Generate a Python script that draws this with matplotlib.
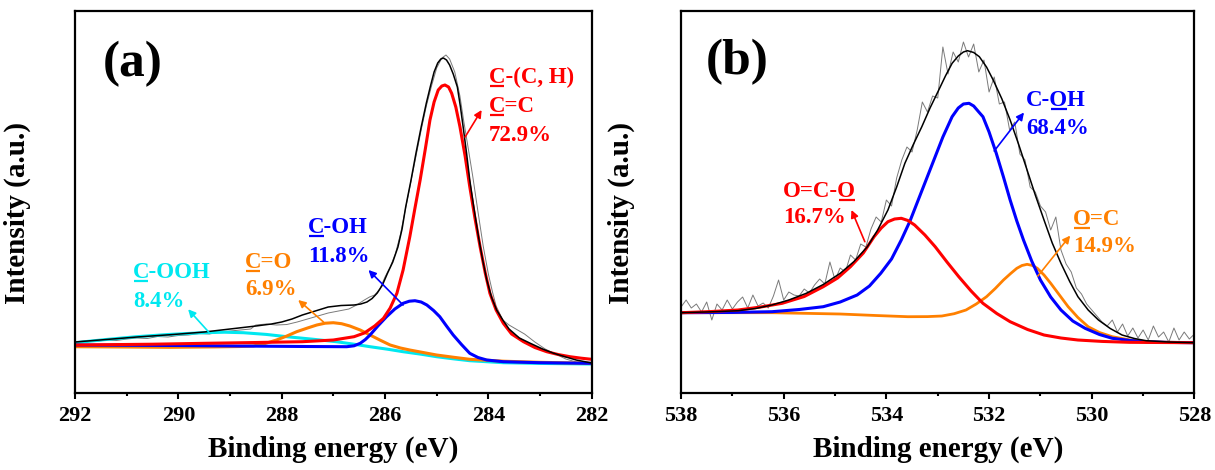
import numpy as np
import matplotlib
matplotlib.use("Agg")
import matplotlib.pyplot as plt

# ---------------- panel (a): C 1s ----------------
a_raw_e = [292.0, 291.8, 291.6, 291.4, 291.2, 291.0, 290.8, 290.6, 290.4, 290.2, 290.0, 289.8,
           289.6, 289.4, 289.2, 289.0, 288.8, 288.6, 288.5, 288.3, 288.1, 287.9, 287.7, 287.5,
           287.3, 287.1, 286.9, 286.7, 286.55, 286.4, 286.3, 286.2, 286.1, 286.0, 285.9, 285.8,
           285.7, 285.6, 285.5, 285.4, 285.3, 285.2, 285.1, 285.0, 284.9, 284.82, 284.75, 284.65,
           284.55, 284.48, 284.4, 284.3, 284.2, 284.1, 284.0, 283.92, 283.85, 283.72, 283.6,
           283.5, 283.3, 283.1, 282.9, 282.7, 282.5, 282.3, 282.0]
a_raw_i = [50, 51, 50.5, 52, 51.5, 53, 54, 53.5, 55.5, 55, 56.5, 57,
           58.5, 58, 60, 61, 62, 63, 67, 68, 67, 67.5, 70, 73,
           76, 79, 81, 83, 87, 92, 95, 97, 103, 115, 125, 138,
           158, 184, 210, 236, 262, 286, 306, 324, 334, 337, 333, 320,
           296, 272, 247, 215, 180, 146, 118, 100, 86, 72, 67,
           64, 58, 50, 43, 38, 33, 30, 29]

a_fit_e = [292.0, 291.4, 290.8, 290.1, 289.5, 289.0, 288.5, 288.2, 288.0, 287.8, 287.6, 287.35,
           287.1, 286.85, 286.6, 286.47, 286.35, 286.25, 286.15, 286.05, 285.95, 285.85, 285.75,
           285.67, 285.6, 285.5, 285.4, 285.3, 285.2, 285.12, 285.05, 284.98, 284.92, 284.87,
           284.81, 284.75, 284.68, 284.6, 284.54, 284.48, 284.42, 284.36, 284.28, 284.19, 284.11,
           284.03, 283.94, 283.84, 283.72, 283.6, 283.4, 283.2, 282.95, 282.75, 282.5, 282.3, 282.0]
a_fit_i = [50, 52.5, 55, 57.5, 60, 63, 66, 68, 70, 73, 77, 81,
           85, 86.5, 87, 88, 90, 93.5, 99, 107, 119, 130, 145,
           163, 185, 211, 239, 265, 289, 306, 320, 329, 333, 334,
           332, 327, 318, 305, 285, 262, 238, 212, 184, 155, 132,
           112, 95, 82, 72, 63, 54, 49, 43, 39, 35, 32, 29]

a_cc_e = [292.0, 290.5, 289.5, 288.5, 287.6, 287.0, 286.6, 286.4, 286.2, 286.03, 285.9, 285.77,
          285.65, 285.52, 285.42, 285.32, 285.22, 285.13, 285.05, 284.97, 284.9, 284.84, 284.77,
          284.71, 284.63, 284.55, 284.45, 284.36, 284.26, 284.16, 284.06, 283.97, 283.85, 283.71,
          283.55, 283.32, 283.1, 282.87, 282.65, 282.42, 282.2, 282.0]
a_cc_i = [47, 47.8, 48.7, 49.5, 50.3, 52, 55.3, 59, 66, 73.7, 84, 98.7,
          122, 155.3, 184, 212, 243, 272, 290, 302, 306, 307, 305,
          298.7, 285, 265.3, 236, 205.3, 174, 145.3, 119, 98.7, 82, 68.7,
          58, 50.3, 44.5, 40.3, 37.5, 35.3, 33.8, 32.7]

a_coh_e = [292.0, 290.0, 288.87, 287.5, 286.74, 286.6, 286.48, 286.38, 286.29, 286.13, 285.97,
           285.81, 285.65, 285.53, 285.42, 285.3, 285.19, 285.06, 284.94, 284.81, 284.68, 284.52,
           284.36, 284.2, 284.03, 283.71, 283.0, 282.0]
a_coh_i = [47, 46.5, 46, 45.5, 45.3, 46.2, 48.7, 52.5, 57, 66.5, 75.3,
           83, 88.7, 90.8, 91.3, 90, 87, 81.5, 75.3, 66, 57, 47.5,
           38.7, 34.5, 32, 30.3, 29.3, 28.7]

a_co_e = [292.0, 291.0, 290.16, 289.3, 288.8, 288.55, 288.32, 288.1, 287.9, 287.71, 287.5,
          287.32, 287.16, 287.0, 286.84, 286.68, 286.48, 286.29, 286.1, 285.9, 285.7, 285.52,
          285.25, 285.0, 284.68, 284.36, 283.7, 283.0, 282.0]
a_co_i = [45.3, 45, 44.7, 45.1, 45.5, 46, 48.5, 52, 56, 60.3, 64,
          67, 68.8, 69.3, 68.3, 66, 62, 57, 52, 47, 44, 42,
          39.4, 37, 34.8, 32.7, 30.8, 29.7, 28.7]

a_cooh_e = [292.0, 291.4, 290.81, 290.2, 289.52, 289.1, 288.74, 288.3, 287.9, 287.4, 286.94,
            286.6, 286.29, 285.95, 285.65, 285.3, 285.0, 284.68, 284.36, 284.0, 283.71, 283.0,
            282.0]
a_cooh_i = [49.3, 52.5, 55.3, 57.5, 59.3, 59.8, 59.3, 57.6, 55.3, 52.8, 50.3,
            47.8, 45.3, 42.8, 40.3, 37.8, 35.3, 33.2, 31.3, 30.2, 29.3, 28.6,
            28]

# ---------------- panel (b): O 1s ----------------
b_raw_e = [538.0, 537.9, 537.8, 537.7, 537.6, 537.5, 537.4, 537.3, 537.2, 537.1,
           537.0, 536.9, 536.8, 536.7, 536.6, 536.5, 536.4, 536.3, 536.2, 536.1,
           536.0, 535.9, 535.8, 535.7, 535.6, 535.5, 535.4, 535.3, 535.2, 535.1,
           535.0, 534.9, 534.8, 534.7, 534.6, 534.5, 534.4, 534.3, 534.2, 534.1,
           534.0, 533.9, 533.8, 533.7, 533.6, 533.5, 533.4, 533.3, 533.2, 533.1,
           533.0, 532.9, 532.8, 532.7, 532.6, 532.5, 532.4, 532.3, 532.2, 532.1,
           532.0, 531.9, 531.8, 531.7, 531.6, 531.5, 531.4, 531.3, 531.2, 531.1,
           531.0, 530.9, 530.8, 530.7, 530.6, 530.5, 530.4, 530.3, 530.2, 530.1,
           530.0, 529.9, 529.8, 529.7, 529.6, 529.5, 529.4, 529.3, 529.2, 529.1,
           529.0, 528.9, 528.8, 528.7, 528.6, 528.5, 528.4, 528.3, 528.2, 528.1, 528.0]
b_raw_i = [85, 92, 84, 88, 80, 90, 72, 88, 82, 92,
           83, 90, 95, 84, 97, 86, 89, 84, 96, 112,
           92, 100, 97, 96, 103, 99, 107, 113, 108, 130,
           112, 124, 120, 137, 132, 148, 145, 163, 175, 170,
           192, 186, 214, 232, 245, 240, 262, 290, 280, 296,
           294, 345, 318, 340, 330, 350, 335, 348, 320, 332,
           300, 315, 288, 290, 262, 270, 238, 232, 205, 200,
           186, 180, 162, 175, 142, 128, 120, 104, 98, 88,
           82, 76, 70, 66, 72, 60, 68, 56, 64, 54,
           62, 52, 66, 55, 60, 50, 64, 52, 60, 53, 58]

b_fit_e = [538.0, 537.4, 536.89, 536.55, 536.23, 535.9, 535.56, 535.23, 534.9, 534.63, 534.37,
           534.17, 533.97, 533.8, 533.64, 533.48, 533.31, 533.15, 532.98, 532.85, 532.72, 532.6,
           532.5, 532.42, 532.3, 532.19, 532.05, 531.92, 531.75, 531.59, 531.42, 531.26, 531.1,
           530.93, 530.77, 530.6, 530.43, 530.27, 530.07, 529.87, 529.64, 529.41, 529.17, 528.94,
           528.5, 528.0]
b_fit_i = [79.3, 80.2, 81.3, 83.5, 87, 92, 98.7, 107.5, 118.7, 130.5, 145.3,
           162, 182, 205, 228.7, 247, 265.3, 284, 302, 316, 328.7, 336,
           340, 341.3, 339.5, 335.3, 325, 312, 293, 272, 247, 222, 197,
           172, 149, 128.7, 110.5, 95.3, 82, 72, 63.5, 57, 53.5, 51.3,
           50, 49.3]

b_coh_e = [538.0, 537.0, 536.23, 535.7, 535.23, 534.9, 534.57, 534.33, 534.11, 533.9, 533.71,
           533.54, 533.38, 533.22, 533.05, 532.9, 532.72, 532.6, 532.5, 532.39, 532.3, 532.2,
           532.12, 532.0, 531.86, 531.72, 531.59, 531.46, 531.33, 531.17, 531.0, 530.8, 530.6,
           530.37, 530.13, 529.85, 529.6, 529.25, 528.94, 528.5, 528.0]
b_coh_i = [79.3, 79.6, 80.3, 82.5, 85.3, 90, 97, 106, 118.7, 133, 152,
           171, 192, 213, 235.3, 255, 275.3, 284, 288, 288.7, 286, 280,
           275.3, 260, 238.7, 215, 192, 171, 152, 131, 112, 95, 82,
           71, 63.7, 57.5, 53.7, 51.5, 50.3, 49.6, 49.3]

b_oco_e = [538.0, 537.4, 536.89, 536.45, 536.03, 535.6, 535.23, 534.95, 534.7, 534.45, 534.24,
           534.1, 533.97, 533.84, 533.71, 533.58, 533.45, 533.25, 533.05, 532.82, 532.59, 532.35,
           532.12, 531.85, 531.59, 531.25, 530.93, 530.6, 530.27, 529.8, 529.27, 528.0]
b_oco_i = [79.3, 80.5, 82, 85, 88.7, 95.5, 105.3, 114, 125.3, 139, 155.3,
           164, 170.3, 173, 173.7, 171.5, 167, 157, 145.3, 130, 115.3, 101,
           88.7, 78.5, 70.3, 62.5, 57, 54, 52, 50.6, 49.7, 49.3]

b_oc_e = [538.0, 537.0, 536.23, 535.5, 534.9, 534.2, 533.58, 533.2, 532.92, 532.68, 532.45,
          532.25, 532.05, 531.88, 531.72, 531.58, 531.46, 531.36, 531.26, 531.16, 531.06, 530.93,
          530.8, 530.63, 530.46, 530.27, 530.07, 529.85, 529.6, 529.25, 528.94, 528.0]
b_oc_i = [79.3, 79.3, 79.3, 78.6, 78, 76.5, 75.3, 75.4, 76, 78.3, 82,
          88, 95.3, 103.5, 112, 118.5, 123.7, 126.5, 127.7, 126.6, 123.7, 117,
          108.7, 97, 85.3, 74.5, 65.3, 59.5, 55.3, 52, 50.3, 49.3]

RED = '#ff0000'
BLUE = '#0000ff'
ORANGE = '#ff8000'
CYAN = '#00e8f0'
FONT = 'Liberation Serif'

plt.rcParams['font.family'] = FONT
plt.rcParams['font.weight'] = 'bold'

fig = plt.figure(figsize=(12.15, 4.70), dpi=100)
ax1 = fig.add_axes([0.0617, 0.1638, 0.4253, 0.8128])
ax2 = fig.add_axes([0.5605, 0.1638, 0.4226, 0.8128])


def setup(ax, lo, hi):
    ax.set_xlim(lo, hi)
    ax.set_ylim(-1, 381)
    ax.set_yticks([])
    ax.set_xticks(np.arange(hi, lo + 0.1, 2))
    ax.set_xticks(np.arange(hi, lo + 0.1, 1), minor=True)
    ax.tick_params(axis='x', which='major', direction='out', length=4.5, width=1.5,
                   labelsize=16, pad=5)
    ax.tick_params(axis='x', which='minor', direction='out', length=2.5, width=1.5)
    for sp in ax.spines.values():
        sp.set_linewidth(1.6)
    for lab in ax.get_xticklabels():
        lab.set_fontweight('bold')
    ax.set_xlabel('Binding energy (eV)', fontsize=21, fontweight='bold', labelpad=7)
    ax.set_ylabel('Intensity (a.u.)', fontsize=21, fontweight='bold')
    ax.yaxis.set_label_coords(-0.085, 0.47)


setup(ax1, 292, 282)
setup(ax2, 538, 528)
ax2.yaxis.set_label_coords(-0.09, 0.47)

# panel a curves
ax1.plot(a_raw_e, a_raw_i, color='#7a7a7a', lw=0.7)
ax1.plot(a_cooh_e, a_cooh_i, color=CYAN, lw=2.2)
ax1.plot(a_co_e, a_co_i, color=ORANGE, lw=2.2)
ax1.plot(a_coh_e, a_coh_i, color=BLUE, lw=2.2)
ax1.plot(a_cc_e, a_cc_i, color=RED, lw=2.2)
ax1.plot(a_fit_e, a_fit_i, color='black', lw=1.1)

# panel b curves
ax2.plot(b_raw_e, b_raw_i, color='#7a7a7a', lw=0.7)
ax2.plot(b_oc_e, b_oc_i, color=ORANGE, lw=2.0)
ax2.plot(b_coh_e, b_coh_i, color=BLUE, lw=2.2)
ax2.plot(b_oco_e, b_oco_i, color=RED, lw=2.2)
ax2.plot(b_fit_e, b_fit_i, color='black', lw=1.1)

ax1.text(291.46, 316, '(a)', fontsize=37, fontweight='bold')
ax2.text(537.51, 318, '(b)', fontsize=37, fontweight='bold')

renderer = fig.canvas.get_renderer()
FS = 16.5


def width(ax, x, y, s):
    if not s:
        return 0.0
    t = ax.text(x, y, s, fontsize=FS, fontweight='bold')
    w = t.get_window_extent(renderer).width
    t.remove()
    return w


def put(ax, x, y, s, color, under=None):
    ax.text(x, y, s, fontsize=FS, fontweight='bold', color=color, va='baseline')
    if under is None:
        return
    i0, i1 = under
    px, py = ax.transData.transform((x, y))
    x0 = px + width(ax, x, y, s[:i0])
    x1 = px + width(ax, x, y, s[:i1])
    inv = ax.transData.inverted()
    (dx0, dy0), (dx1, _) = inv.transform([(x0 + 1, py - 3), (x1 - 1, py - 3)])
    ax.plot([dx0, dx1], [dy0, dy0], color=color, lw=1.6, clip_on=False,
            solid_capstyle='butt')


def arrow(ax, start, head, color):
    ax.annotate('', xy=head, xytext=start,
                arrowprops=dict(arrowstyle='-|>', color=color, lw=1.2,
                                mutation_scale=11, shrinkA=0, shrinkB=0))


# annotations panel a
put(ax1, 283.99, 309, 'C-(C, H)', RED, (0, 1))
put(ax1, 283.99, 280, 'C=C', RED, (0, 1))
put(ax1, 283.99, 251, '72.9%', RED)
arrow(ax1, (284.45, 255), (284.13, 282), RED)

put(ax1, 287.49, 159, 'C-OH', BLUE, (0, 1))
put(ax1, 287.49, 130, '11.8%', BLUE)
arrow(ax1, (285.65, 87), (286.32, 122), BLUE)

put(ax1, 288.71, 124, 'C=O', ORANGE, (0, 1))
put(ax1, 288.71, 97, '6.9%', ORANGE)
arrow(ax1, (287.19, 70), (287.68, 92), ORANGE)

put(ax1, 290.88, 114, 'C-OOH', CYAN, (0, 1))
put(ax1, 290.88, 85, '8.4%', CYAN)
arrow(ax1, (289.39, 58.7), (289.81, 82.7), CYAN)

# annotations panel b
put(ax2, 531.28, 286, 'C-OH', BLUE, (2, 3))
put(ax2, 531.28, 258, '68.4%', BLUE)
arrow(ax2, (531.90, 241), (531.32, 279.5), BLUE)

put(ax2, 530.37, 167, 'O=C', ORANGE, (0, 1))
put(ax2, 530.37, 140, '14.9%', ORANGE)
arrow(ax2, (531.05, 116), (530.42, 156.4), ORANGE)

put(ax2, 536.01, 195, 'O=C-O', RED, (4, 5))
put(ax2, 536.01, 169, '16.7%', RED)
arrow(ax2, (534.42, 150.3), (534.68, 182), RED)

fig.savefig('out.png', dpi=100)
